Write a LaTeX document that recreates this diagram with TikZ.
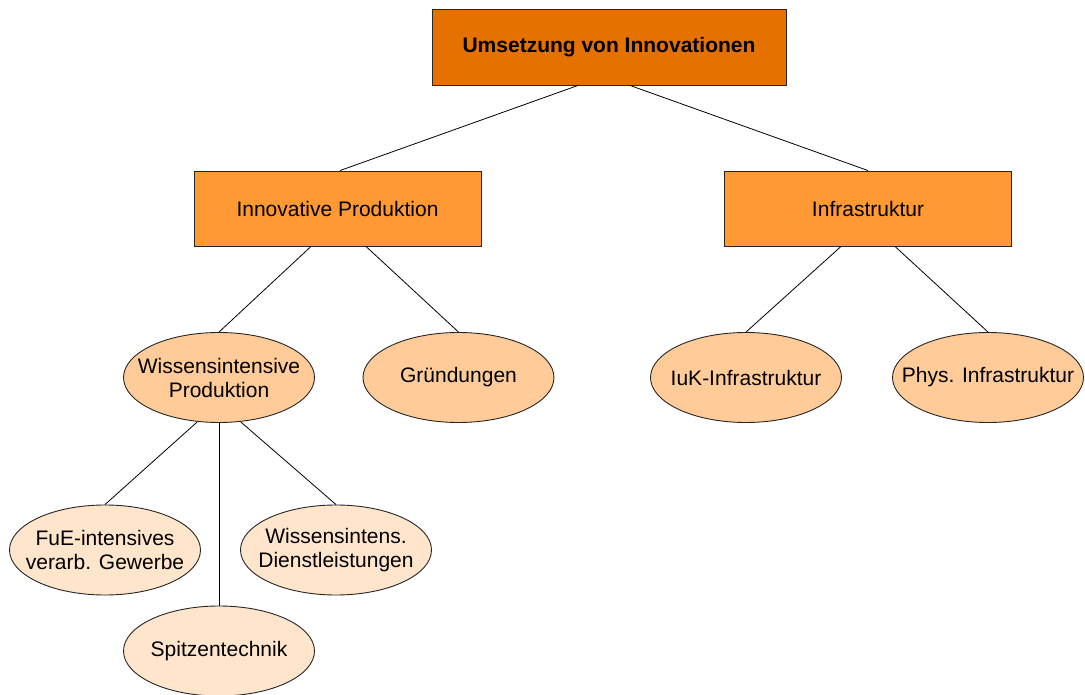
\documentclass[tikz,border=0pt]{standalone}
\usepackage{fontspec}
\setmainfont{Liberation Sans}
\usetikzlibrary{shapes.geometric}
\definecolor{topfill}{HTML}{E57200}
\definecolor{midfill}{HTML}{FF9933}
\definecolor{ellfill}{HTML}{FFCC99}
\definecolor{lowfill}{HTML}{FFE5CC}
\tikzset{
  every node/.style={font=\fontsize{21}{24}\selectfont, text=black},
  topbox/.style={draw=black!85, line width=0.9pt, fill=topfill, minimum width=354pt, minimum height=76pt, inner sep=0pt, font=\fontsize{21}{24}\selectfont\bfseries},
  midbox/.style={draw=black!85, line width=0.9pt, fill=midfill, minimum width=287pt, minimum height=75pt, inner sep=0pt},
  ell/.style={ellipse, draw=black!85, line width=0.9pt, fill=ellfill, minimum width=191pt, minimum height=90pt, inner xsep=-30pt, inner ysep=0pt, align=center},
  lowell/.style={ell, fill=lowfill},
  conn/.style={draw=black, line width=0.8pt}
}
\begin{document}
\begin{tikzpicture}[x=1pt,y=-1pt]
\useasboundingbox (0,0) rectangle (1085,695);
\node[topbox] (top) at (609,47) {Umsetzung von Innovationen};
\node[midbox] (ip) at (337.5,208.5) {Innovative Produktion};
\node[midbox] (inf) at (868,208.5) {Infrastruktur};
\node[ell] (wp) at (219,377.5) {Wissensintensive\\Produktion};
\node[ell] (gr) at (458.5,377.5) {Gründungen};
\node[ell] (iuk) at (746,377.5) {IuK-Infrastruktur};
\node[ell] (phys) at (988,377.5) {Phys. Infrastruktur};
\node[lowell] (fue) at (105,550) {FuE-intensives\\verarb. Gewerbe};
\node[lowell] (wd) at (336,550) {Wissensintens.\\Dienstleistungen};
\node[lowell] (sp) at (219,651) {Spitzentechnik};
\draw[conn] ([xshift=-31pt]top.south) -- ([xshift=2.5pt]ip.north);
\draw[conn] ([xshift=21pt]top.south) -- (inf.north);
\draw[conn] ([xshift=-26.5pt]ip.south) -- (wp.north);
\draw[conn] ([xshift=28.5pt]ip.south) -- (gr.north);
\draw[conn] ([xshift=-27pt]inf.south) -- (iuk.north);
\draw[conn] ([xshift=27pt]inf.south) -- (phys.north);
\draw[conn] (wp.244) -- (fue.north);
\draw[conn] (wp.south) -- (sp.north);
\draw[conn] (wp.296) -- (wd.north);
\end{tikzpicture}
\end{document}
